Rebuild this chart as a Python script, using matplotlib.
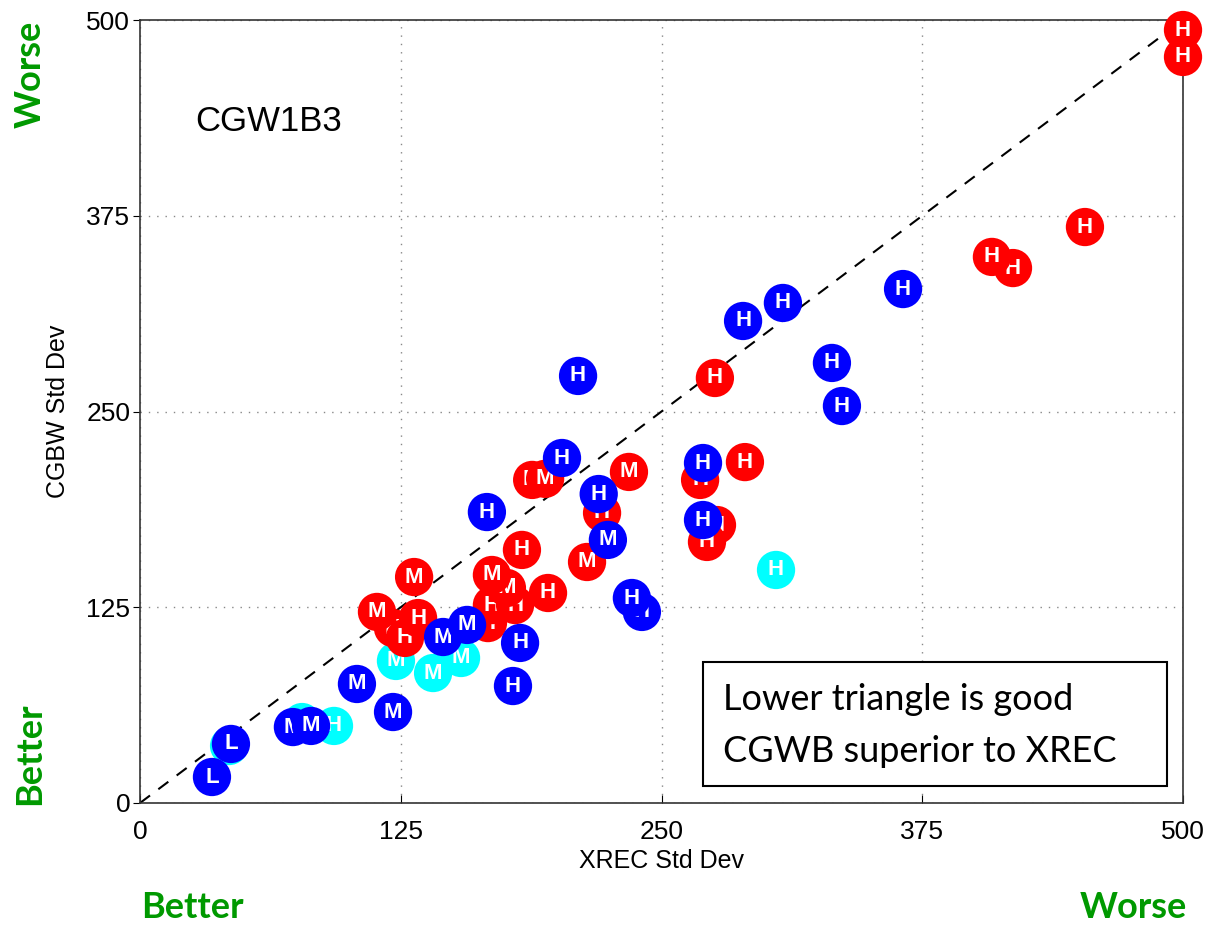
import matplotlib
matplotlib.use("Agg")
import matplotlib.pyplot as plt
from matplotlib.patches import Rectangle

# std dev pairs (XREC, CGBW) per station, grouped by colour, with class letter
cyan_x = [42.7, 77.7, 93.0, 122.7, 140.5, 153.9, 304.9]
cyan_y = [36.4, 51.7, 49.2, 90.7, 83.0, 92.6, 148.8]
cyan_lab = ["L", "M", "H", "M", "M", "M", "H"]

red_x = [121.3, 127.0, 113.6, 131.4, 133.3, 166.8, 168.7, 179.8, 175.9, 168.7, 183.1, 195.6,
         188.0, 194.2, 214.3, 221.5, 234.4, 268.5, 290.0, 276.6, 271.8, 275.6,
         418.5, 408.4, 453.0, 500.0, 500.0]
red_y = [111.7, 105.4, 122.0, 144.3, 118.1, 114.9, 126.4, 126.4, 137.3, 145.6, 161.6, 134.1,
         206.3, 207.0, 153.9, 185.2, 211.4, 206.3, 217.7, 177.5, 166.7, 271.4,
         341.6, 348.7, 367.8, 493.6, 476.4]
red_lab = ["H", "H", "M", "M", "H", "H", "H", "H", "M", "M", "H", "H",
           "M", "M", "M", "H", "M", "H", "H", "H", "H", "H",
           "H", "H", "H", "H", "H"]

blue_x = [34.5, 43.6, 73.3, 82.0, 104.0, 121.3, 145.3, 156.8, 182.2, 178.8, 166.3, 202.3,
          210.0, 219.9, 224.3, 240.6, 235.8, 269.9, 269.9, 289.1, 308.2, 331.7, 336.5, 365.8]
blue_y = [16.6, 37.7, 48.5, 49.2, 76.0, 58.1, 106.0, 113.7, 102.2, 74.7, 185.8, 220.3,
          272.7, 197.3, 168.0, 122.0, 130.9, 217.1, 180.7, 307.8, 319.3, 281.0, 253.5, 328.2]
blue_lab = ["L", "L", "M", "M", "M", "M", "M", "M", "H", "H", "H", "H",
            "H", "H", "M", "H", "H", "H", "H", "H", "H", "H", "H", "H"]

ticks = [0, 125, 250, 375, 500]

fig = plt.figure(figsize=(12.11, 9.25), dpi=100)
ax = fig.add_axes([140 / 1211, 1 - 803 / 925, 1043 / 1211, 783 / 925])

ax.set_xlim(0, 500)
ax.set_ylim(0, 500)
ax.set_xticks(ticks)
ax.set_yticks(ticks)
ax.tick_params(axis="x", direction="in", length=6, pad=12, labelsize=19)
ax.tick_params(axis="y", direction="out", length=5, pad=2, labelsize=19)
for lbl in ax.get_xticklabels() + ax.get_yticklabels():
    lbl.set_fontfamily("Liberation Sans")
ax.grid(True, linestyle=(0, (1, 5)), color="#888888", linewidth=1)
ax.set_axisbelow(True)
for sp in ax.spines.values():
    sp.set_color("#333333")
    sp.set_linewidth(1.2)

ax.plot([0, 500], [0, 500], linestyle=(0, (6, 5)), color="black", linewidth=1.5, zorder=2)

# circles with letters, each point stacked above the previous one
z = 3
for xs, ys, labs, col in [(cyan_x, cyan_y, cyan_lab, "#00ffff"),
                          (red_x, red_y, red_lab, "#ff0000"),
                          (blue_x, blue_y, blue_lab, "#0000ff")]:
    for x, y, lab in zip(xs, ys, labs):
        ax.scatter([x], [y], s=760, color=col, edgecolors="none", zorder=z, clip_on=False)
        ax.text(x, y, lab, color="white", fontsize=16, fontweight="bold",
                family="Liberation Sans", ha="center", va="center", zorder=z + 0.5)
        z += 1

ax.text(61.5, 435, "CGW1B3", fontsize=25, family="Liberation Sans", ha="center", va="center")

ax.add_patch(Rectangle((269.9, 10.9), 222.4, 79.1, facecolor="white", edgecolor="black",
                       linewidth=1.5, zorder=z + 1))
ax.text(279.5, 65.8, "Lower triangle is good", fontsize=26, family="Lato",
        ha="left", va="center", zorder=z + 2)
ax.text(279.5, 32.6, "CGWB superior to XREC", fontsize=26, family="Lato",
        ha="left", va="center", zorder=z + 2)

ax.set_xlabel("XREC Std Dev", fontsize=18, family="Liberation Sans", labelpad=4)
ax.set_ylabel("CGBW Std Dev", fontsize=18, family="Liberation Sans", labelpad=12)

green = "#009900"
fig.text(30 / 1211, 1 - 74 / 925, "Worse", color=green, fontsize=26, fontweight="bold",
         family="Lato", rotation=90, ha="center", va="center")
fig.text(30 / 1211, 1 - 754 / 925, "Better", color=green, fontsize=26, fontweight="bold",
         family="Lato", rotation=90, ha="center", va="center")
fig.text(192 / 1211, 1 - 907 / 925, "Better", color=green, fontsize=26, fontweight="bold",
         family="Lato", ha="center", va="center")
fig.text(1133 / 1211, 1 - 907 / 925, "Worse", color=green, fontsize=26, fontweight="bold",
         family="Lato", ha="center", va="center")

fig.savefig("out.png", dpi=100)
